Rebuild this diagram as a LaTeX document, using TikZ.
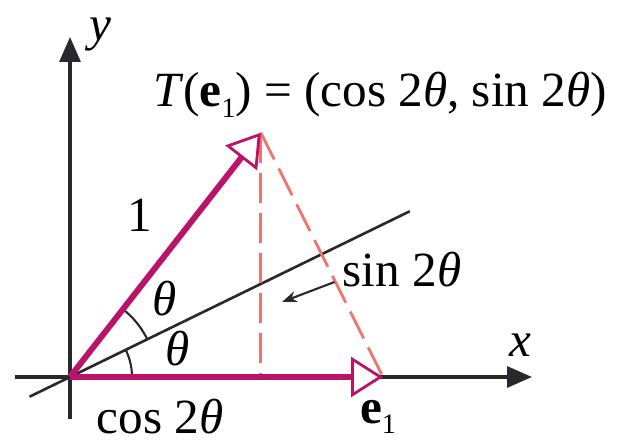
\documentclass[tikz,border=0pt]{standalone}
\usepackage{fontspec}
\setmainfont{Liberation Serif}
\usetikzlibrary{arrows.meta, positioning, calc}
\definecolor{VecMagenta}{RGB}{185, 20, 105}
\definecolor{DashRed}{RGB}{240, 115, 110}
\definecolor{AxisGray}{RGB}{40, 40, 45}
\newcommand{\thet}{\textit{θ}}
\newcommand{\eone}{\textbf{e}\raisebox{-0.45ex}{\footnotesize 1}}

\begin{document}
\begin{tikzpicture}[
  every node/.style={font=\fontsize{14}{16}\selectfont, inner sep=1pt},
  axis/.style={-{Triangle[length=0.25cm, width=0.21cm]}, line width=0.9pt, draw=AxisGray},
  vec/.style={-{Triangle[length=0.32cm, width=0.4cm, fill=white, line width=0.8pt]},
              line width=1.7pt, draw=VecMagenta},
  guide/.style={dashed, dash pattern=on 0.3cm off 0.1cm, line width=0.8pt, draw=DashRed},
  bisect/.style={line width=0.75pt, draw=AxisGray},
  marc/.style={line width=0.6pt, draw=AxisGray},
  ptr/.style={-{Stealth[length=0.15cm]}, line width=0.6pt, draw=AxisGray}
]
  \useasboundingbox (-0.70,-0.63) rectangle (5.49,3.77);

  %% Points
  \coordinate (o)      at (0,0);
  \coordinate (xlo)    at (-0.55,0);
  \coordinate (xhi)    at (4.62,0);
  \coordinate (ylo)    at (0,-0.42);
  \coordinate (yhi)    at (0,3.40);
  \coordinate (e1)     at (3.13,0);
  \coordinate (te1)    at (52:3.1);
  \coordinate (foot)   at ($(te1|-o)$);
  \coordinate (blo)    at (206:0.45);
  \coordinate (bhi)    at (26:3.78);
  \coordinate (sintip) at (2.12,0.75);

  %% Axes and line
  \draw[axis]   (xlo) -- (xhi);
  \draw[axis]   (ylo) -- (yhi);
  \draw[bisect] (blo) -- (bhi);

  %% Dashed guides
  \draw[guide] (te1) -- (foot);
  \draw[guide] (te1) -- (e1);

  %% Angle marks
  \draw[marc] (0:0.62)  arc (0:26:0.62);
  \draw[marc] (26:0.86) arc (26:52:0.86);

  %% Vectors
  \draw[vec] (o) -- (e1);
  \draw[vec] (o) -- (te1);

  %% Labels
  \node (ylab)   at (0.30, 3.42) {\textit{y}};
  \node (xlab)   at (4.50, 0.32) {\textit{x}};
  \node (tlab)   at (3.10, 2.82) {\textit{T}(\eone) = (cos 2\thet, sin 2\thet)};
  \node (one)    at (0.70, 1.62) {1};
  \node (th2)    at (0.95, 0.78) {\thet};
  \node (th1)    at (1.08, 0.28) {\thet};
  \node (sinlab) at (3.32, 1.07) {sin 2\thet};
  \node (coslab) at (0.90,-0.40) {cos 2\thet};
  \node (elab)   at (3.08,-0.40) {\eone};
  \draw[ptr] ([shift={(-0.04,-0.12)}]sinlab.west) -- (sintip);
\end{tikzpicture}
\end{document}
